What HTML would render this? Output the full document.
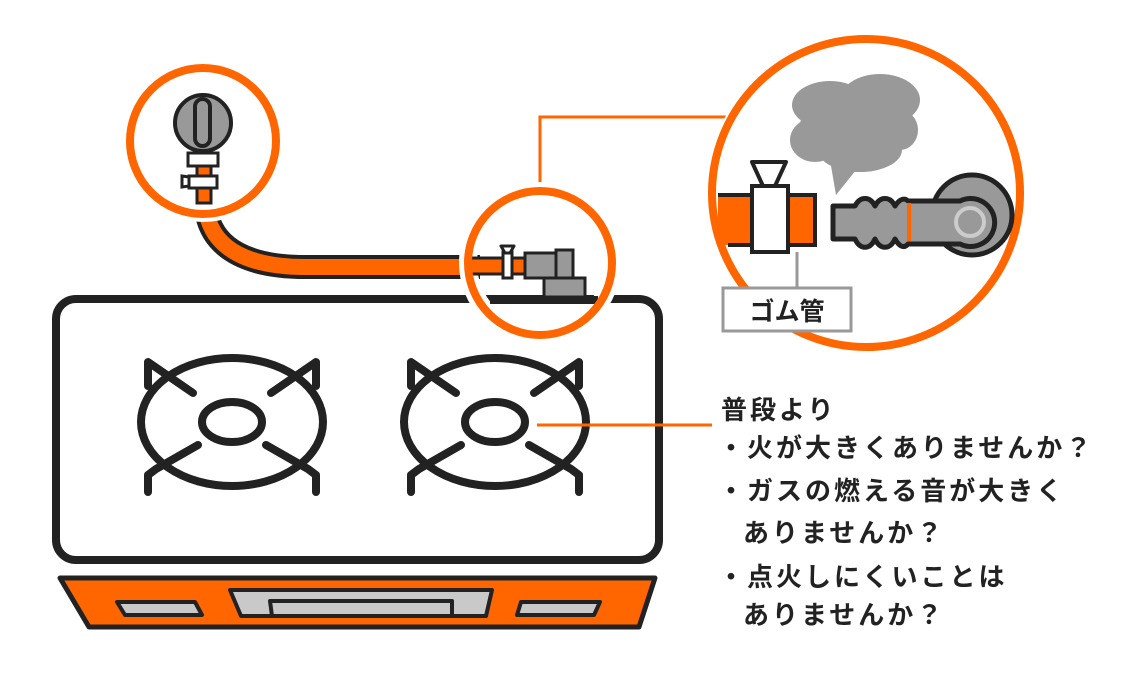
<!DOCTYPE html>
<html><head><meta charset="utf-8"><style>
html,body{margin:0;padding:0;background:#fff}
svg{display:block}
text{font-family:"Liberation Sans","Noto Sans CJK JP",sans-serif;font-weight:bold;fill:#222}
</style></head><body>
<svg width="1145" height="681" viewBox="0 0 1145 681" xmlns="http://www.w3.org/2000/svg">
<!-- stove top -->
<rect x="56" y="299" width="603" height="261" rx="20" fill="#fff" stroke="#222" stroke-width="8"/>
<!-- bottom panel -->
<path d="M60 578 L655 578 L639 627 L89 627 Z" fill="#ff6600" stroke="#222" stroke-width="5" stroke-linejoin="round"/>
<path d="M117 602 L195 602 L202 615 L125 615 Z" fill="#c8c9c8" stroke="#222" stroke-width="4" stroke-linejoin="round"/>
<path d="M230 590 L492 590 L486 616 L241 616 Z" fill="#c8c9c8" stroke="#222" stroke-width="4" stroke-linejoin="round"/>
<path d="M270 601 L452 601 L452 616 L272 616 Z" fill="#c8c9c8" stroke="#222" stroke-width="4" stroke-linejoin="round"/>
<path d="M521 602 L600 602 L594 615 L517 615 Z" fill="#c8c9c8" stroke="#222" stroke-width="4" stroke-linejoin="round"/>
<!-- burners -->
<g fill="none" stroke="#222" stroke-width="8" stroke-linecap="round" stroke-linejoin="round">
<g transform="translate(232,422)">
<ellipse rx="91" ry="64"/><ellipse rx="30" ry="20"/>
<path d="M-39 -29 L-84 -60 L-84 -36 M39 -29 L84 -60 L84 -36 M-34 23 L-76 47 L-84 53 L-84 70 M34 23 L76 47 L84 53 L84 70"/>
</g>
<g transform="translate(495,422)">
<ellipse rx="91" ry="64"/><ellipse rx="30" ry="20"/>
<path d="M-39 -29 L-84 -60 L-84 -36 M39 -29 L84 -60 L84 -36 M-34 23 L-76 47 L-84 53 L-84 70 M34 23 L76 47 L84 53 L84 70"/>
</g>
</g>
<!-- hose -->
<path d="M207 215 C215 250 250 267 305 267 L480 267" fill="none" stroke="#222" stroke-width="24"/>
<path d="M207 215 C215 250 250 267 305 267 L480 267" fill="none" stroke="#ff6600" stroke-width="16"/>
<!-- top-left circle -->
<circle cx="203" cy="141" r="73" fill="#fff" stroke="#fff" stroke-width="16"/>
<circle cx="203" cy="141" r="73" fill="#fff" stroke="#ff6600" stroke-width="8"/>
<rect x="197" y="165" width="14" height="38" fill="#ff6600" stroke="#222" stroke-width="3"/>
<circle cx="203" cy="123" r="28" fill="#999" stroke="#222" stroke-width="4"/>
<rect x="195" y="99" width="15" height="47" rx="7.5" fill="#999" stroke="#222" stroke-width="4"/>
<rect x="188" y="153" width="30" height="13" fill="#fff" stroke="#222" stroke-width="3"/>
<rect x="189" y="176" width="28" height="12" fill="#fff" stroke="#222" stroke-width="3"/>
<path d="M189 177 L182 176 L182 187 L189 186 Z" fill="#fff" stroke="#222" stroke-width="3"/>
<!-- connector line -->
<path d="M540 190 L540 117 L726 117" fill="none" stroke="#ff6600" stroke-width="3"/>
<!-- middle circle -->
<circle cx="540" cy="263" r="72" fill="none" stroke="#fff" stroke-width="18"/>
<rect x="470" y="258" width="60" height="16" fill="#ff6600"/>
<line x1="470" y1="258" x2="525" y2="258" stroke="#222" stroke-width="3"/>
<line x1="470" y1="274" x2="525" y2="274" stroke="#222" stroke-width="3"/>
<rect x="490" y="296" width="108" height="8" fill="#222"/>
<rect x="544" y="278" width="41" height="19" fill="#999" stroke="#222" stroke-width="3"/>
<rect x="525" y="253" width="32" height="25" fill="#999" stroke="#222" stroke-width="3"/>
<rect x="556" y="250" width="17" height="28" fill="#999" stroke="#222" stroke-width="3"/>
<rect x="503" y="252" width="9" height="26" fill="#fff" stroke="#222" stroke-width="3"/>
<path d="M501 246 L514 246 L510 253 L505 253 Z" fill="#fff" stroke="#222" stroke-width="3" stroke-linejoin="round"/>
<circle cx="540" cy="263" r="72" fill="none" stroke="#ff6600" stroke-width="8"/>
<!-- big circle -->
<circle cx="866" cy="193" r="154" fill="#fff" stroke="#fff" stroke-width="12"/>
<circle cx="866" cy="193" r="154" fill="#fff" stroke="#ff6600" stroke-width="8"/>
<!-- cloud -->
<g fill="#999">
<ellipse cx="830" cy="105" rx="38" ry="24"/><ellipse cx="880" cy="100" rx="40" ry="26"/>
<ellipse cx="900" cy="130" rx="18" ry="20"/><ellipse cx="815" cy="140" rx="25" ry="22"/>
<ellipse cx="860" cy="150" rx="42" ry="22"/><ellipse cx="855" cy="125" rx="55" ry="28"/>
<path d="M830 160 L836 195 L860 165 Z"/>
</g>
<!-- pipe left -->
<rect x="718" y="195" width="97" height="50" fill="#ff6600"/>
<path d="M718 195 L815 195 L815 245 L728 245" fill="none" stroke="#222" stroke-width="4"/>
<rect x="752" y="186" width="36" height="66" fill="#fff" stroke="#222" stroke-width="4"/>
<path d="M752 162 L786 162 L775 186 L763 186 Z" fill="#fff" stroke="#222" stroke-width="4" stroke-linejoin="round"/>
<line x1="797" y1="252" x2="797" y2="290" stroke="#999" stroke-width="3"/>
<rect x="723" y="288" width="128" height="43" fill="#fff" stroke="#999" stroke-width="3"/>
<text x="787" y="320" font-size="25" text-anchor="middle">ゴム管</text>
<!-- plug -->
<circle cx="972" cy="215" r="40" fill="#999" stroke="#222" stroke-width="5"/>
<path d="M833 206 L855 206 C860 196 870 196 875 206 C880 196 890 196 895 206 C900 198 905 198 908 201 L960 201 A24 24 0 1 1 960 244 L908 244 C905 248 900 248 895 239 C890 250 880 250 875 239 C870 250 860 250 855 239 L833 239 Z" fill="#999" stroke="#222" stroke-width="5" stroke-linejoin="round"/>
<rect x="907" y="203" width="4" height="38" fill="#ff6600"/>
<circle cx="970" cy="222" r="14" fill="none" stroke="#ccc" stroke-width="4"/>
<!-- callout -->
<line x1="537" y1="425" x2="712" y2="425" stroke="#ff6600" stroke-width="3"/>
<g font-size="26" letter-spacing="3">
<text x="721" y="419">普段より</text>
<text x="718" y="457">・火が大きくありませんか？</text>
<text x="718" y="500">・ガスの燃える音が大きく</text>
<text x="743" y="542">ありませんか？</text>
<text x="718" y="586">・点火しにくいことは</text>
<text x="743" y="624">ありませんか？</text>
</g>
</svg>
</body></html>
